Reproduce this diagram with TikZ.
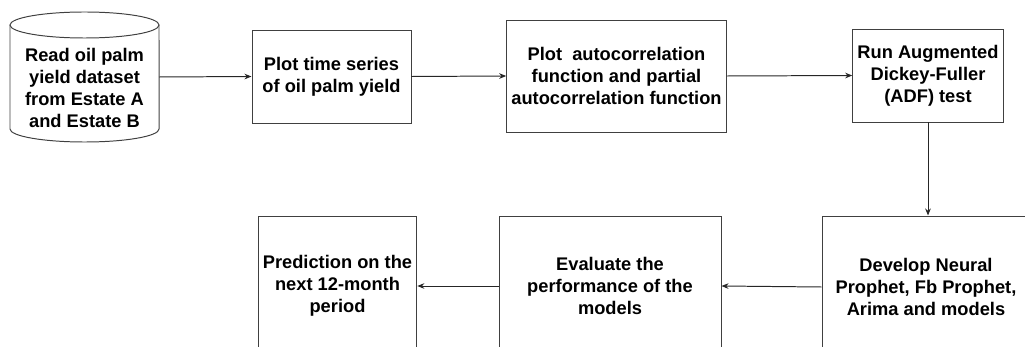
\documentclass[tikz,border=0pt]{standalone}
\usepackage{fontspec}
\setmainfont{Liberation Sans}
\usetikzlibrary{arrows.meta}

\tikzset{
    stepbox/.style={draw=black!75, line width=0.7pt, align=center, font=\fontsize{13}{15.6}\selectfont\bfseries},
    link/.style={draw=black!85, line width=0.7pt, -{Stealth[length=5pt,width=4pt]}}
}

\begin{document}
\begin{tikzpicture}[x=0.025cm,y=-0.025cm]
        % Define page size (pixels of the reference)
        \def\pagewidth{1025}
        \def\pageheight{347}
        \useasboundingbox (0,0) rectangle (\pagewidth,\pageheight);
        \clip (0,0) rectangle (\pagewidth,\pageheight);

        % Data store (cylinder drawn round its text node)
        \node (read) at (84.5,88) [stepbox, draw=none, minimum width=149*0.025cm, minimum height=90*0.025cm]
            {Read oil palm\\yield dataset\\from Estate A\\and Estate B};
        \draw[black!75, line width=0.7pt] (84.5,25) ellipse (1.8625cm and 0.325cm);
        \draw[black!75, line width=0.7pt] (10,25) -- (10,129) arc (180:360:1.8625cm and 0.325cm) -- (159,25);
        \coordinate (readout) at (159,77);

        % Top row
        \node (plot) at (331.5,76.5) [stepbox, minimum width=159*0.025cm, minimum height=93*0.025cm]
            {Plot time series\\of oil palm yield};
        \node (acf) at (616.5,76) [stepbox, minimum width=219*0.025cm, minimum height=112*0.025cm]
            {Plot~ autocorrelation\\function and partial\\autocorrelation function};
        \node (adf) at (928,75.5) [stepbox, minimum width=150*0.025cm, minimum height=93*0.025cm]
            {Run Augmented\\Dickey-Fuller\\(ADF) test};

        % Bottom row
        \node (dev) at (926,287) [stepbox, minimum width=208*0.025cm, minimum height=142*0.025cm]
            {Develop Neural\\Prophet, Fb Prophet,\\Arima and models};
        \node (eval) at (610,286) [stepbox, minimum width=222*0.025cm, minimum height=140*0.025cm]
            {Evaluate the\\performance of the\\models};
        \node (pred) at (337.5,286) [stepbox, minimum width=153*0.025cm, minimum height=140*0.025cm]
            {Prediction on the\\next 12-month\\period};

        % Connectors
        \draw[link] (readout) -- (plot.west);
        \draw[link] (plot.east) -- (acf.west);
        \draw[link] (acf.east) -- (adf.west);
        \draw[link] (adf.south) -- (adf.south |- dev.north);
        \draw[link] (dev.west) -- (eval.east);
        \draw[link] (eval.west) -- (pred.east);
\end{tikzpicture}
\end{document}
